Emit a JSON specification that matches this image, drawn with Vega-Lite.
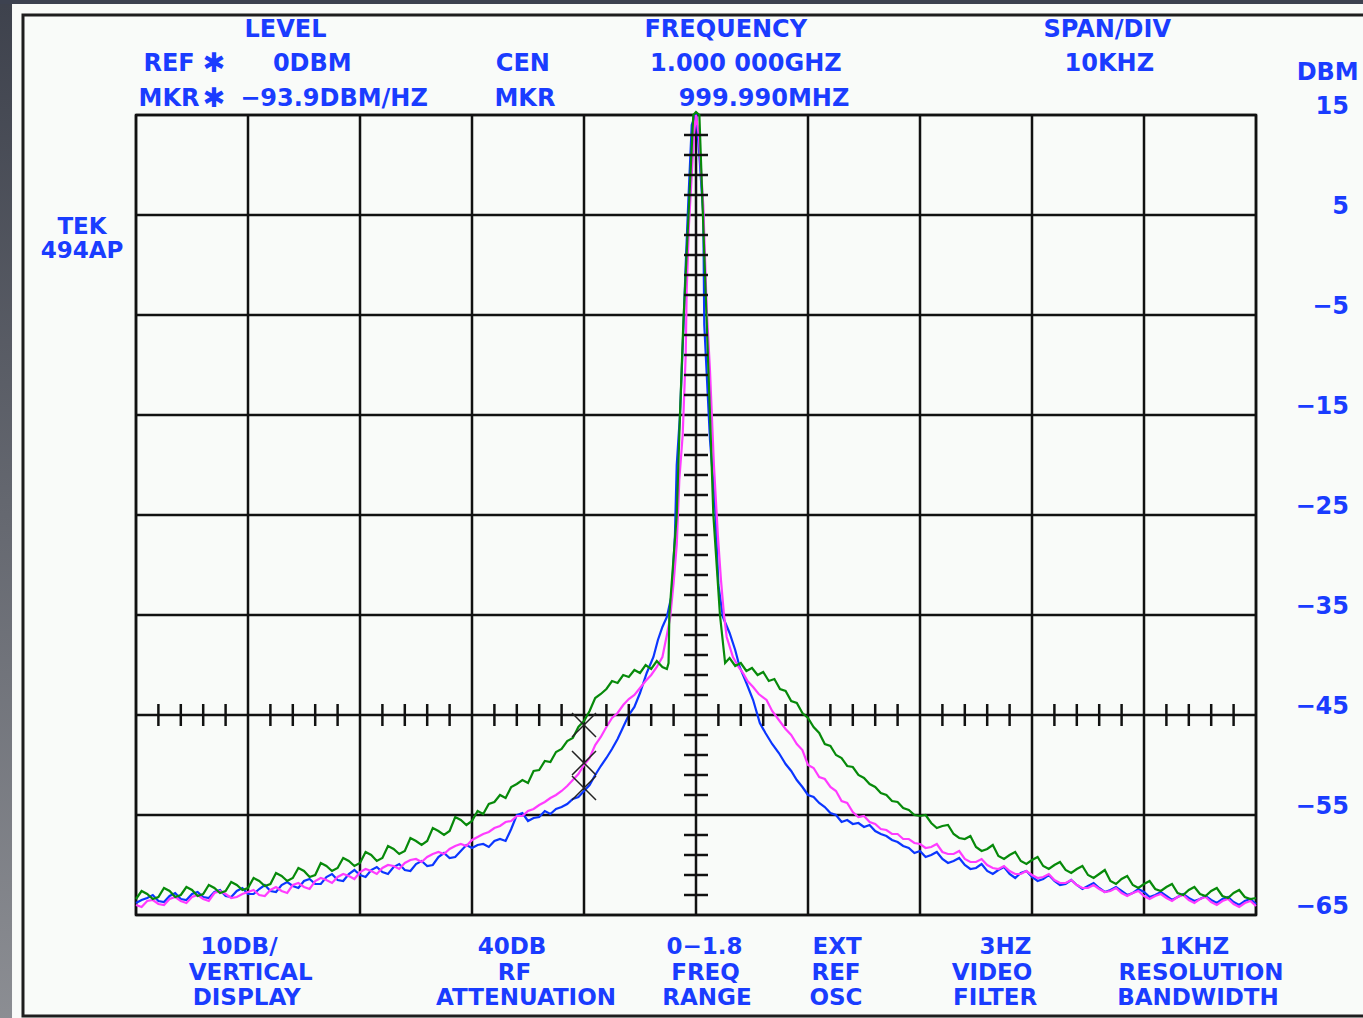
{
"$schema":"https://vega.github.io/schema/vega-lite/v6.json",
"width":1120,"height":800,
"autosize":{"type":"none"},
"padding":{"left":136,"top":115,"right":107,"bottom":103},
"background":"#f9fbf9",
"config":{"view":{"stroke":"#111111","strokeWidth":2.5},"text":{"font":"DejaVu Sans","fontWeight":"bold","fontSize":24,"color":"#1a3cff","align":"center","baseline":"middle"}},
"data":{"values":[{}]},
"datasets":{
"gx":[{"f":-50},{"f":-40},{"f":-30},{"f":-20},{"f":-10},{"f":0},{"f":10},{"f":20},{"f":30},{"f":40},{"f":50}],
"gy":[{"d":15},{"d":5},{"d":-5},{"d":-15},{"d":-25},{"d":-35},{"d":-45},{"d":-55},{"d":-65}],
"green":[{"f":-50,"d":-63.4},{"f":-49,"d":-62.9},{"f":-48,"d":-63.2},{"f":-47,"d":-62.6},{"f":-46,"d":-63.0},{"f":-45,"d":-62.5},{"f":-44,"d":-62.9},{"f":-43,"d":-62.3},{"f":-42,"d":-62.6},{"f":-41,"d":-62.0},{"f":-40,"d":-62.3},{"f":-39,"d":-61.6},{"f":-38,"d":-61.9},{"f":-37,"d":-61.1},{"f":-36,"d":-61.3},{"f":-35,"d":-60.6},{"f":-34,"d":-61.0},{"f":-33,"d":-60.1},{"f":-32,"d":-60.3},{"f":-31,"d":-59.6},{"f":-30,"d":-59.8},{"f":-29,"d":-59.0},{"f":-28,"d":-59.3},{"f":-27,"d":-58.4},{"f":-26,"d":-58.6},{"f":-25,"d":-57.6},{"f":-24,"d":-57.6},{"f":-23,"d":-56.6},{"f":-22,"d":-56.6},{"f":-21,"d":-55.5},{"f":-20,"d":-55.6},{"f":-19.5,"d":-54.6},{"f":-19,"d":-54.9},{"f":-18.5,"d":-53.9},{"f":-18,"d":-53.7},{"f":-17.5,"d":-53.0},{"f":-17,"d":-53.3},{"f":-16.5,"d":-52.2},{"f":-16,"d":-51.9},{"f":-15.5,"d":-51.5},{"f":-15,"d":-51.8},{"f":-14.5,"d":-50.6},{"f":-14,"d":-50.5},{"f":-13.5,"d":-49.6},{"f":-13,"d":-49.7},{"f":-12.5,"d":-48.7},{"f":-12,"d":-48.4},{"f":-11.5,"d":-47.6},{"f":-11,"d":-47.3},{"f":-10.5,"d":-46.2},{"f":-10,"d":-45.6},{"f":-9.5,"d":-44.6},{"f":-9,"d":-43.3},{"f":-8.5,"d":-42.9},{"f":-8,"d":-42.4},{"f":-7.5,"d":-41.6},{"f":-7,"d":-41.8},{"f":-6.5,"d":-41.0},{"f":-6,"d":-41.2},{"f":-5.5,"d":-40.5},{"f":-5,"d":-40.8},{"f":-4.5,"d":-40.0},{"f":-4,"d":-40.4},{"f":-3.5,"d":-39.6},{"f":-3,"d":-40.2},{"f":-2.6,"d":-40.4},{"f":-2.45,"d":-39.8},{"f":-2.38,"d":-35},{"f":-1.72,"d":-25},{"f":-1.43,"d":-15},{"f":-1.13,"d":-5.8},{"f":-0.24,"d":15},{"f":0,"d":15.3},{"f":0.3,"d":15},{"f":0.96,"d":-5.8},{"f":1.25,"d":-15},{"f":1.55,"d":-25},{"f":2.14,"d":-35},{"f":2.6,"d":-39.8},{"f":3,"d":-39.3},{"f":3.5,"d":-40.1},{"f":4,"d":-39.8},{"f":4.5,"d":-40.6},{"f":5,"d":-40.3},{"f":5.5,"d":-41.0},{"f":6,"d":-40.7},{"f":6.5,"d":-41.6},{"f":7,"d":-41.4},{"f":7.5,"d":-42.4},{"f":8,"d":-42.6},{"f":8.5,"d":-43.6},{"f":9,"d":-43.8},{"f":9.5,"d":-44.8},{"f":10,"d":-45.3},{"f":10.5,"d":-46.2},{"f":11,"d":-46.8},{"f":11.5,"d":-47.9},{"f":12,"d":-48.1},{"f":12.5,"d":-49.0},{"f":13,"d":-49.3},{"f":13.5,"d":-50.1},{"f":14,"d":-50.2},{"f":14.5,"d":-51.0},{"f":15,"d":-51.3},{"f":15.5,"d":-51.9},{"f":16,"d":-52.2},{"f":16.5,"d":-52.8},{"f":17,"d":-53.0},{"f":17.5,"d":-53.6},{"f":18,"d":-53.7},{"f":18.5,"d":-54.3},{"f":19,"d":-54.5},{"f":19.5,"d":-55.0},{"f":20,"d":-55.1},{"f":21,"d":-55.8},{"f":22,"d":-56.1},{"f":23,"d":-56.9},{"f":24,"d":-57.4},{"f":25,"d":-58.2},{"f":26,"d":-58.4},{"f":27,"d":-59.1},{"f":28,"d":-59.0},{"f":29,"d":-59.6},{"f":30,"d":-59.5},{"f":31,"d":-60.1},{"f":32,"d":-60.0},{"f":33,"d":-60.5},{"f":34,"d":-60.4},{"f":35,"d":-61.0},{"f":36,"d":-60.9},{"f":37,"d":-61.6},{"f":38,"d":-61.4},{"f":39,"d":-62.0},{"f":40,"d":-61.9},{"f":41,"d":-62.4},{"f":42,"d":-62.2},{"f":43,"d":-62.8},{"f":44,"d":-62.5},{"f":45,"d":-62.9},{"f":46,"d":-62.6},{"f":47,"d":-63.1},{"f":48,"d":-62.8},{"f":49,"d":-63.2},{"f":50,"d":-63.3},
{"f":20.5,"d":-55.0},{"f":21.5,"d":-56.3},{"f":22.5,"d":-56.0},{"f":23.5,"d":-57.3},{"f":24.5,"d":-57.1},{"f":25.5,"d":-58.6},{"f":26.5,"d":-58.0},{"f":27.5,"d":-59.4},{"f":28.5,"d":-58.7},{"f":29.5,"d":-59.9},{"f":30.5,"d":-59.2},{"f":31.5,"d":-60.4},{"f":32.5,"d":-59.7},{"f":33.5,"d":-60.8},{"f":34.5,"d":-60.1},{"f":35.5,"d":-61.3},{"f":36.5,"d":-60.5},{"f":37.5,"d":-61.9},{"f":38.5,"d":-61.1},{"f":39.5,"d":-62.3},{"f":40.5,"d":-61.6},{"f":41.5,"d":-62.6},{"f":42.5,"d":-61.9},{"f":43.5,"d":-63.0},{"f":44.5,"d":-62.2},{"f":45.5,"d":-63.1},{"f":46.5,"d":-62.3},{"f":47.5,"d":-63.3},{"f":48.5,"d":-62.5},{"f":49.5,"d":-63.4},
{"f":-49.5,"d":-62.6},{"f":-48.5,"d":-63.4},{"f":-47.5,"d":-62.3},{"f":-46.5,"d":-63.2},{"f":-45.5,"d":-62.2},{"f":-44.5,"d":-63.1},{"f":-43.5,"d":-62.0},{"f":-42.5,"d":-62.8},{"f":-41.5,"d":-61.7},{"f":-40.5,"d":-62.5},{"f":-39.5,"d":-61.3},{"f":-38.5,"d":-62.1},{"f":-37.5,"d":-60.8},{"f":-36.5,"d":-61.6},{"f":-35.5,"d":-60.3},{"f":-34.5,"d":-61.2},{"f":-33.5,"d":-59.8},{"f":-32.5,"d":-60.6},{"f":-31.5,"d":-59.3},{"f":-30.5,"d":-60.1},{"f":-29.5,"d":-58.7},{"f":-28.5,"d":-59.6},{"f":-27.5,"d":-58.1},{"f":-26.5,"d":-58.9},{"f":-25.5,"d":-57.3},{"f":-24.5,"d":-58.0},{"f":-23.5,"d":-56.3},{"f":-22.5,"d":-57.0},{"f":-21.5,"d":-55.2},{"f":-20.5,"d":-56.0}],
"magenta":[{"f":-50,"d":-64.0},{"f":-49,"d":-63.6},{"f":-48,"d":-63.9},{"f":-47,"d":-63.4},{"f":-46,"d":-63.6},{"f":-45,"d":-63.2},{"f":-44,"d":-63.4},{"f":-43,"d":-62.8},{"f":-42,"d":-62.9},{"f":-41,"d":-63.2},{"f":-40,"d":-62.7},{"f":-39,"d":-63.0},{"f":-38,"d":-62.5},{"f":-37,"d":-62.6},{"f":-36,"d":-62.0},{"f":-35,"d":-62.2},{"f":-34,"d":-61.6},{"f":-33,"d":-61.5},{"f":-32,"d":-61.2},{"f":-31,"d":-61.1},{"f":-30,"d":-60.7},{"f":-29,"d":-60.6},{"f":-28,"d":-60.3},{"f":-27,"d":-60.1},{"f":-26,"d":-59.8},{"f":-25,"d":-59.4},{"f":-24,"d":-59.2},{"f":-23,"d":-58.7},{"f":-22,"d":-58.4},{"f":-21,"d":-57.9},{"f":-20,"d":-57.5},{"f":-19.5,"d":-57.2},{"f":-19,"d":-56.9},{"f":-18.5,"d":-56.7},{"f":-18,"d":-56.3},{"f":-17.5,"d":-56.1},{"f":-17,"d":-55.7},{"f":-16.5,"d":-55.6},{"f":-16,"d":-55.1},{"f":-15.5,"d":-55.1},{"f":-15,"d":-54.6},{"f":-14.5,"d":-54.4},{"f":-14,"d":-54.0},{"f":-13.5,"d":-53.7},{"f":-13,"d":-53.3},{"f":-12.5,"d":-53.0},{"f":-12,"d":-52.6},{"f":-11.5,"d":-52.1},{"f":-11,"d":-51.5},{"f":-10.5,"d":-50.9},{"f":-10,"d":-50.0},{"f":-9.5,"d":-49.3},{"f":-9,"d":-48.0},{"f":-8.5,"d":-47.2},{"f":-8,"d":-46.2},{"f":-7.5,"d":-45.3},{"f":-7,"d":-44.8},{"f":-6.5,"d":-44.0},{"f":-6,"d":-43.4},{"f":-5.5,"d":-43.0},{"f":-5,"d":-42.3},{"f":-4.5,"d":-41.6},{"f":-4,"d":-41.0},{"f":-3.5,"d":-40.2},{"f":-3,"d":-39.2},{"f":-2.6,"d":-37},{"f":-2.3,"d":-35.2},{"f":-2.0,"d":-31.8},{"f":-1.72,"d":-28},{"f":-1.49,"d":-21.5},{"f":-1.19,"d":-17},{"f":-0.92,"d":-9},{"f":-0.83,"d":-2.5},{"f":-0.63,"d":4},{"f":-0.18,"d":13},{"f":0,"d":15},{"f":0.25,"d":13},{"f":0.65,"d":6},{"f":0.96,"d":-4.5},{"f":1.25,"d":-10.6},{"f":1.6,"d":-20},{"f":1.95,"d":-27},{"f":2.23,"d":-31.5},{"f":2.5,"d":-35},{"f":2.74,"d":-37.2},{"f":3.3,"d":-39.2},{"f":3.8,"d":-40.2},{"f":4.2,"d":-40.8},{"f":4.6,"d":-41.6},{"f":5.1,"d":-42.2},{"f":5.6,"d":-42.9},{"f":6.3,"d":-43.5},{"f":6.8,"d":-44.6},{"f":7.4,"d":-45.5},{"f":8,"d":-46.4},{"f":8.5,"d":-47.0},{"f":9,"d":-47.9},{"f":9.5,"d":-48.5},{"f":10,"d":-50.0},{"f":10.5,"d":-50.3},{"f":11,"d":-51.2},{"f":11.5,"d":-51.4},{"f":12,"d":-52.2},{"f":12.5,"d":-52.6},{"f":13,"d":-53.6},{"f":13.5,"d":-53.8},{"f":14,"d":-54.7},{"f":14.5,"d":-55.2},{"f":15,"d":-55.1},{"f":15.5,"d":-55.7},{"f":16,"d":-55.9},{"f":16.5,"d":-56.4},{"f":17,"d":-56.5},{"f":17.5,"d":-56.9},{"f":18,"d":-56.9},{"f":18.5,"d":-57.4},{"f":19,"d":-57.4},{"f":19.5,"d":-57.8},{"f":20,"d":-57.9},{"f":21,"d":-58.2},{"f":22,"d":-58.7},{"f":23,"d":-58.9},{"f":24,"d":-59.4},{"f":25,"d":-59.7},{"f":26,"d":-60.0},{"f":27,"d":-60.4},{"f":28,"d":-60.6},{"f":29,"d":-60.9},{"f":30,"d":-61.0},{"f":31,"d":-61.2},{"f":32,"d":-61.5},{"f":33,"d":-61.8},{"f":34,"d":-62.0},{"f":35,"d":-62.3},{"f":36,"d":-62.4},{"f":37,"d":-62.6},{"f":38,"d":-62.8},{"f":39,"d":-62.8},{"f":40,"d":-63.1},{"f":41,"d":-63.1},{"f":42,"d":-63.3},{"f":43,"d":-63.2},{"f":44,"d":-63.5},{"f":45,"d":-63.4},{"f":46,"d":-63.7},{"f":47,"d":-63.6},{"f":48,"d":-63.9},{"f":49,"d":-63.8},{"f":50,"d":-64.1},
{"f":20.5,"d":-58.3},{"f":21.5,"d":-57.9},{"f":22.5,"d":-58.9},{"f":23.5,"d":-58.6},{"f":24.5,"d":-59.7},{"f":25.5,"d":-59.4},{"f":26.5,"d":-60.3},{"f":27.5,"d":-60.1},{"f":28.5,"d":-60.9},{"f":29.5,"d":-60.6},{"f":30.5,"d":-61.3},{"f":31.5,"d":-60.9},{"f":32.5,"d":-61.8},{"f":33.5,"d":-61.5},{"f":34.5,"d":-62.3},{"f":35.5,"d":-62.0},{"f":36.5,"d":-62.7},{"f":37.5,"d":-62.3},{"f":38.5,"d":-63.1},{"f":39.5,"d":-62.6},{"f":40.5,"d":-63.4},{"f":41.5,"d":-62.9},{"f":42.5,"d":-63.6},{"f":43.5,"d":-63.0},{"f":44.5,"d":-63.8},{"f":45.5,"d":-63.2},{"f":46.5,"d":-64.0},{"f":47.5,"d":-63.4},{"f":48.5,"d":-64.2},{"f":49.5,"d":-63.6},
{"f":-49.5,"d":-64.2},{"f":-48.5,"d":-63.5},{"f":-47.5,"d":-64.0},{"f":-46.5,"d":-63.2},{"f":-45.5,"d":-63.8},{"f":-44.5,"d":-63.0},{"f":-43.5,"d":-63.6},{"f":-42.5,"d":-62.6},{"f":-41.5,"d":-63.3},{"f":-40.5,"d":-62.9},{"f":-39.5,"d":-62.5},{"f":-38.5,"d":-63.1},{"f":-37.5,"d":-62.2},{"f":-36.5,"d":-62.8},{"f":-35.5,"d":-61.8},{"f":-34.5,"d":-62.4},{"f":-33.5,"d":-61.3},{"f":-32.5,"d":-61.8},{"f":-31.5,"d":-60.9},{"f":-30.5,"d":-61.4},{"f":-29.5,"d":-60.4},{"f":-28.5,"d":-60.9},{"f":-27.5,"d":-60.0},{"f":-26.5,"d":-60.4},{"f":-25.5,"d":-59.5},{"f":-24.5,"d":-59.7},{"f":-23.5,"d":-58.9},{"f":-22.5,"d":-58.9},{"f":-21.5,"d":-58.1},{"f":-20.5,"d":-58.1}],
"blue":[{"f":-50,"d":-63.8},{"f":-49,"d":-63.3},{"f":-48,"d":-63.6},{"f":-47,"d":-63.1},{"f":-46,"d":-63.4},{"f":-45,"d":-62.9},{"f":-44,"d":-63.2},{"f":-43,"d":-62.7},{"f":-42,"d":-63.1},{"f":-41,"d":-62.6},{"f":-40,"d":-62.9},{"f":-39,"d":-62.4},{"f":-38,"d":-62.6},{"f":-37,"d":-62.0},{"f":-36,"d":-62.1},{"f":-35,"d":-61.6},{"f":-34,"d":-61.9},{"f":-33,"d":-61.2},{"f":-32,"d":-61.5},{"f":-31,"d":-60.9},{"f":-30,"d":-61.0},{"f":-29,"d":-60.5},{"f":-28,"d":-60.7},{"f":-27,"d":-60.2},{"f":-26,"d":-60.5},{"f":-25,"d":-59.9},{"f":-24,"d":-60.1},{"f":-23,"d":-59.2},{"f":-22,"d":-59.3},{"f":-21,"d":-58.6},{"f":-20,"d":-58.3},{"f":-19.5,"d":-58.0},{"f":-19,"d":-57.9},{"f":-18.5,"d":-58.2},{"f":-18,"d":-57.6},{"f":-17.5,"d":-57.4},{"f":-17,"d":-57.6},{"f":-16.5,"d":-56.4},{"f":-16,"d":-55.0},{"f":-15.5,"d":-54.8},{"f":-15,"d":-55.6},{"f":-14.5,"d":-55.3},{"f":-14,"d":-55.2},{"f":-13.5,"d":-54.6},{"f":-13,"d":-54.9},{"f":-12.5,"d":-54.4},{"f":-12,"d":-54.2},{"f":-11.5,"d":-53.9},{"f":-11,"d":-53.4},{"f":-10.5,"d":-53.2},{"f":-10,"d":-52.6},{"f":-9.5,"d":-52.0},{"f":-9,"d":-51.0},{"f":-8.5,"d":-50.1},{"f":-8,"d":-49.3},{"f":-7.5,"d":-48.4},{"f":-7,"d":-47.4},{"f":-6.5,"d":-46.2},{"f":-6,"d":-45.0},{"f":-5.5,"d":-44.2},{"f":-5,"d":-42.8},{"f":-4.4,"d":-40.8},{"f":-3.8,"d":-39.2},{"f":-3.4,"d":-37.5},{"f":-3.0,"d":-36.2},{"f":-2.6,"d":-35.2},{"f":-2.17,"d":-33},{"f":-1.88,"d":-27},{"f":-1.72,"d":-20},{"f":-1.43,"d":-15},{"f":-1.13,"d":-6.5},{"f":-0.92,"d":0},{"f":-0.68,"d":6.5},{"f":-0.38,"d":14},{"f":0,"d":15.2},{"f":0.3,"d":11},{"f":0.65,"d":5},{"f":0.74,"d":-6},{"f":1.25,"d":-17.5},{"f":1.7,"d":-24},{"f":2.0,"d":-32},{"f":2.4,"d":-35.2},{"f":3.0,"d":-36.8},{"f":3.5,"d":-38.5},{"f":3.9,"d":-40.2},{"f":4.5,"d":-41.8},{"f":5.1,"d":-43.5},{"f":5.7,"d":-45.8},{"f":6.2,"d":-46.8},{"f":6.8,"d":-47.9},{"f":7.4,"d":-48.8},{"f":8,"d":-49.9},{"f":8.5,"d":-50.6},{"f":9,"d":-51.5},{"f":9.5,"d":-52.2},{"f":10,"d":-53.0},{"f":10.5,"d":-53.2},{"f":11,"d":-53.8},{"f":11.5,"d":-54.2},{"f":12,"d":-54.8},{"f":12.5,"d":-55.0},{"f":13,"d":-55.7},{"f":13.5,"d":-55.5},{"f":14,"d":-55.9},{"f":14.5,"d":-55.8},{"f":15,"d":-56.2},{"f":15.5,"d":-56.0},{"f":16,"d":-56.6},{"f":16.5,"d":-56.9},{"f":17,"d":-57.1},{"f":17.5,"d":-57.5},{"f":18,"d":-57.7},{"f":18.5,"d":-58.1},{"f":19,"d":-58.3},{"f":19.5,"d":-58.8},{"f":20,"d":-58.6},{"f":21,"d":-59.0},{"f":22,"d":-59.4},{"f":23,"d":-59.6},{"f":24,"d":-60.0},{"f":25,"d":-60.3},{"f":26,"d":-60.6},{"f":27,"d":-60.5},{"f":28,"d":-60.9},{"f":29,"d":-60.8},{"f":30,"d":-61.2},{"f":31,"d":-61.4},{"f":32,"d":-61.6},{"f":33,"d":-61.9},{"f":34,"d":-62.0},{"f":35,"d":-62.1},{"f":36,"d":-62.3},{"f":37,"d":-62.5},{"f":38,"d":-62.6},{"f":39,"d":-62.8},{"f":40,"d":-62.7},{"f":41,"d":-63.0},{"f":42,"d":-63.1},{"f":43,"d":-63.2},{"f":44,"d":-63.3},{"f":45,"d":-63.4},{"f":46,"d":-63.5},{"f":47,"d":-63.4},{"f":48,"d":-63.7},{"f":49,"d":-63.6},{"f":50,"d":-63.9},
{"f":20.5,"d":-59.2},{"f":21.5,"d":-58.7},{"f":22.5,"d":-59.8},{"f":23.5,"d":-59.3},{"f":24.5,"d":-60.4},{"f":25.5,"d":-59.9},{"f":26.5,"d":-60.9},{"f":27.5,"d":-60.2},{"f":28.5,"d":-61.3},{"f":29.5,"d":-60.6},{"f":30.5,"d":-61.6},{"f":31.5,"d":-61.0},{"f":32.5,"d":-62.0},{"f":33.5,"d":-61.5},{"f":34.5,"d":-62.4},{"f":35.5,"d":-61.8},{"f":36.5,"d":-62.7},{"f":37.5,"d":-62.2},{"f":38.5,"d":-63.0},{"f":39.5,"d":-62.4},{"f":40.5,"d":-63.2},{"f":41.5,"d":-62.7},{"f":42.5,"d":-63.5},{"f":43.5,"d":-62.9},{"f":44.5,"d":-63.6},{"f":45.5,"d":-63.1},{"f":46.5,"d":-63.8},{"f":47.5,"d":-63.2},{"f":48.5,"d":-64.0},{"f":49.5,"d":-63.4},
{"f":-49.5,"d":-63.5},{"f":-48.5,"d":-63.0},{"f":-47.5,"d":-63.7},{"f":-46.5,"d":-62.8},{"f":-45.5,"d":-63.5},{"f":-44.5,"d":-62.7},{"f":-43.5,"d":-63.3},{"f":-42.5,"d":-62.5},{"f":-41.5,"d":-63.2},{"f":-40.5,"d":-62.3},{"f":-39.5,"d":-62.9},{"f":-38.5,"d":-62.0},{"f":-37.5,"d":-62.7},{"f":-36.5,"d":-61.7},{"f":-35.5,"d":-62.3},{"f":-34.5,"d":-61.4},{"f":-33.5,"d":-61.9},{"f":-32.5,"d":-60.9},{"f":-31.5,"d":-61.6},{"f":-30.5,"d":-60.5},{"f":-29.5,"d":-61.2},{"f":-28.5,"d":-60.2},{"f":-27.5,"d":-60.9},{"f":-26.5,"d":-59.9},{"f":-25.5,"d":-60.6},{"f":-24.5,"d":-59.6},{"f":-23.5,"d":-60.0},{"f":-22.5,"d":-58.8},{"f":-21.5,"d":-59.2},{"f":-20.5,"d":-58.0}],
"vt":[{"d":13},{"d":11},{"d":9},{"d":7},{"d":3},{"d":1},{"d":-1},{"d":-3},{"d":-7},{"d":-9},{"d":-11},{"d":-13},{"d":-17},{"d":-19},{"d":-21},{"d":-23},{"d":-27},{"d":-29},{"d":-31},{"d":-33},{"d":-37},{"d":-39},{"d":-41},{"d":-43},{"d":-47},{"d":-49},{"d":-51},{"d":-53},{"d":-57},{"d":-59},{"d":-61},{"d":-63}],
"ht":[{"f":-48},{"f":-46},{"f":-44},{"f":-42},{"f":-38},{"f":-36},{"f":-34},{"f":-32},{"f":-28},{"f":-26},{"f":-24},{"f":-22},{"f":-18},{"f":-16},{"f":-14},{"f":-12},{"f":-8},{"f":-6},{"f":-4},{"f":-2},{"f":2},{"f":4},{"f":6},{"f":8},{"f":12},{"f":14},{"f":16},{"f":18},{"f":22},{"f":24},{"f":26},{"f":28},{"f":32},{"f":34},{"f":36},{"f":38},{"f":42},{"f":44},{"f":46},{"f":48}],
"mkr":[{"f":-10,"d":-46},{"f":-10,"d":-49.8},{"f":-10,"d":-52.3}]
},
"layer":[
{"data":{"name":"gx"},"mark":{"type":"rule","color":"#111111","strokeWidth":2.5},
 "encoding":{"x":{"field":"f","type":"quantitative","scale":{"domain":[-50,50],"nice":false,"zero":false},"axis":null},"y":{"datum":15,"type":"quantitative","scale":{"domain":[-65,15],"nice":false,"zero":false},"axis":null},"y2":{"datum":-65}}},
{"data":{"name":"gy"},"mark":{"type":"rule","color":"#111111","strokeWidth":2.5},
 "encoding":{"y":{"field":"d","type":"quantitative","axis":null},"x":{"datum":-50,"type":"quantitative","axis":null},"x2":{"datum":50}}},
{"data":{"name":"gy"},"mark":{"type":"text","align":"right","dy":-8},
 "encoding":{"y":{"field":"d","type":"quantitative","axis":null},"x":{"datum":58.3,"type":"quantitative","axis":null},"text":{"field":"d","type":"quantitative"}}},
{"mark":{"type":"text","text":"DBM"},"encoding":{"x":{"datum":56.4,"type":"quantitative","axis":null},"y":{"datum":19.25,"type":"quantitative","axis":null}}},
{"mark":{"type":"rect","fill":{"gradient":"linear","x1":0,"y1":0,"x2":0,"y2":1,"stops":[{"offset":0,"color":"#3b3f4a"},{"offset":1,"color":"#8f9196"}]}},
 "encoding":{"x":{"datum":-70,"type":"quantitative","axis":null},"x2":{"datum":-61.07},"y":{"datum":30,"type":"quantitative","axis":null},"y2":{"datum":-80}}},
{"mark":{"type":"rect","color":"#3d4250"},
 "encoding":{"x":{"datum":-70,"type":"quantitative","axis":null},"x2":{"datum":70},"y":{"datum":30,"type":"quantitative","axis":null},"y2":{"datum":26.1}}},
{"mark":{"type":"rect","fillOpacity":0,"stroke":"#1e1e1e","strokeWidth":3},
 "encoding":{"x":{"datum":-60.09,"type":"quantitative","axis":null},"x2":{"datum":70},"y":{"datum":25,"type":"quantitative","axis":null},"y2":{"datum":-75.1}}},
{"data":{"name":"blue"},"mark":{"type":"line","color":"#0b36ff","strokeWidth":2.2},
 "encoding":{"x":{"field":"f","type":"quantitative","axis":null},"y":{"field":"d","type":"quantitative","axis":null}}},
{"data":{"name":"magenta"},"mark":{"type":"line","color":"#ff3cff","strokeWidth":2.2},
 "encoding":{"x":{"field":"f","type":"quantitative","axis":null},"y":{"field":"d","type":"quantitative","axis":null}}},
{"data":{"name":"green"},"mark":{"type":"line","color":"#078a0a","strokeWidth":2.2},
 "encoding":{"x":{"field":"f","type":"quantitative","axis":null},"y":{"field":"d","type":"quantitative","axis":null}}},
{"data":{"name":"vt"},"mark":{"type":"rule","color":"#111111","strokeWidth":2.5},
 "encoding":{"x":{"datum":-1.07,"type":"quantitative","axis":null},"x2":{"datum":1.07},"y":{"field":"d","type":"quantitative","axis":null}}},
{"data":{"name":"ht"},"mark":{"type":"rule","color":"#111111","strokeWidth":2.5},
 "encoding":{"x":{"field":"f","type":"quantitative","axis":null},"y":{"datum":-43.9,"type":"quantitative","axis":null},"y2":{"datum":-46.1}}},
{"data":{"name":"mkr"},"mark":{"type":"point","shape":"M-1,-1L1,1M1,-1L-1,1","size":576,"filled":false,"color":"#222222","strokeWidth":1.5,"opacity":1},
 "encoding":{"x":{"field":"f","type":"quantitative","axis":null},"y":{"field":"d","type":"quantitative","axis":null}}},
{"mark":{"type":"text","text":"LEVEL"},"encoding":{"x":{"datum":-36.65,"type":"quantitative","axis":null},"y":{"datum":23.55,"type":"quantitative","axis":null}}},
{"mark":{"type":"text","text":"FREQUENCY"},"encoding":{"x":{"datum":2.66,"type":"quantitative","axis":null},"y":{"datum":23.55,"type":"quantitative","axis":null}}},
{"mark":{"type":"text","text":"SPAN/DIV"},"encoding":{"x":{"datum":36.72,"type":"quantitative","axis":null},"y":{"datum":23.55,"type":"quantitative","axis":null}}},
{"mark":{"type":"text","text":"REF"},"encoding":{"x":{"datum":-47.05,"type":"quantitative","axis":null},"y":{"datum":20.1,"type":"quantitative","axis":null}}},
{"mark":{"type":"text","text":"✱","fontSize":27},"encoding":{"x":{"datum":-43.04,"type":"quantitative","axis":null},"y":{"datum":20.1,"type":"quantitative","axis":null}}},
{"mark":{"type":"text","text":"0DBM"},"encoding":{"x":{"datum":-34.26,"type":"quantitative","axis":null},"y":{"datum":20.1,"type":"quantitative","axis":null}}},
{"mark":{"type":"text","text":"CEN"},"encoding":{"x":{"datum":-15.46,"type":"quantitative","axis":null},"y":{"datum":20.1,"type":"quantitative","axis":null}}},
{"mark":{"type":"text","text":"1.000 000GHZ"},"encoding":{"x":{"datum":4.45,"type":"quantitative","axis":null},"y":{"datum":20.1,"type":"quantitative","axis":null}}},
{"mark":{"type":"text","text":"10KHZ"},"encoding":{"x":{"datum":36.9,"type":"quantitative","axis":null},"y":{"datum":20.1,"type":"quantitative","axis":null}}},
{"mark":{"type":"text","text":"MKR"},"encoding":{"x":{"datum":-47.05,"type":"quantitative","axis":null},"y":{"datum":16.6,"type":"quantitative","axis":null}}},
{"mark":{"type":"text","text":"✱","fontSize":27},"encoding":{"x":{"datum":-43.04,"type":"quantitative","axis":null},"y":{"datum":16.6,"type":"quantitative","axis":null}}},
{"mark":{"type":"text","text":"−93.9DBM/HZ"},"encoding":{"x":{"datum":-32.32,"type":"quantitative","axis":null},"y":{"datum":16.6,"type":"quantitative","axis":null}}},
{"mark":{"type":"text","text":"MKR"},"encoding":{"x":{"datum":-15.27,"type":"quantitative","axis":null},"y":{"datum":16.6,"type":"quantitative","axis":null}}},
{"mark":{"type":"text","text":"999.990MHZ"},"encoding":{"x":{"datum":6.07,"type":"quantitative","axis":null},"y":{"datum":16.6,"type":"quantitative","axis":null}}},
{"mark":{"type":"text","text":"TEK","fontSize":23},"encoding":{"x":{"datum":-54.82,"type":"quantitative","axis":null},"y":{"datum":3.8,"type":"quantitative","axis":null}}},
{"mark":{"type":"text","text":"494AP","fontSize":23},"encoding":{"x":{"datum":-54.82,"type":"quantitative","axis":null},"y":{"datum":1.4,"type":"quantitative","axis":null}}},
{"mark":{"type":"text","text":"10DB/","fontSize":23},"encoding":{"x":{"datum":-40.8,"type":"quantitative","axis":null},"y":{"datum":-68.2,"type":"quantitative","axis":null}}},
{"mark":{"type":"text","text":"VERTICAL","fontSize":23},"encoding":{"x":{"datum":-39.76,"type":"quantitative","axis":null},"y":{"datum":-70.8,"type":"quantitative","axis":null}}},
{"mark":{"type":"text","text":"DISPLAY","fontSize":23},"encoding":{"x":{"datum":-40.12,"type":"quantitative","axis":null},"y":{"datum":-73.3,"type":"quantitative","axis":null}}},
{"mark":{"type":"text","text":"40DB","fontSize":23},"encoding":{"x":{"datum":-16.43,"type":"quantitative","axis":null},"y":{"datum":-68.2,"type":"quantitative","axis":null}}},
{"mark":{"type":"text","text":"RF","fontSize":23},"encoding":{"x":{"datum":-16.21,"type":"quantitative","axis":null},"y":{"datum":-70.8,"type":"quantitative","axis":null}}},
{"mark":{"type":"text","text":"ATTENUATION","fontSize":23},"encoding":{"x":{"datum":-15.18,"type":"quantitative","axis":null},"y":{"datum":-73.3,"type":"quantitative","axis":null}}},
{"mark":{"type":"text","text":"0−1.8","fontSize":23},"encoding":{"x":{"datum":0.76,"type":"quantitative","axis":null},"y":{"datum":-68.2,"type":"quantitative","axis":null}}},
{"mark":{"type":"text","text":"FREQ","fontSize":23},"encoding":{"x":{"datum":0.85,"type":"quantitative","axis":null},"y":{"datum":-70.8,"type":"quantitative","axis":null}}},
{"mark":{"type":"text","text":"RANGE","fontSize":23},"encoding":{"x":{"datum":0.98,"type":"quantitative","axis":null},"y":{"datum":-73.3,"type":"quantitative","axis":null}}},
{"mark":{"type":"text","text":"EXT","fontSize":23},"encoding":{"x":{"datum":12.59,"type":"quantitative","axis":null},"y":{"datum":-68.2,"type":"quantitative","axis":null}}},
{"mark":{"type":"text","text":"REF","fontSize":23},"encoding":{"x":{"datum":12.5,"type":"quantitative","axis":null},"y":{"datum":-70.8,"type":"quantitative","axis":null}}},
{"mark":{"type":"text","text":"OSC","fontSize":23},"encoding":{"x":{"datum":12.5,"type":"quantitative","axis":null},"y":{"datum":-73.3,"type":"quantitative","axis":null}}},
{"mark":{"type":"text","text":"3HZ","fontSize":23},"encoding":{"x":{"datum":27.63,"type":"quantitative","axis":null},"y":{"datum":-68.2,"type":"quantitative","axis":null}}},
{"mark":{"type":"text","text":"VIDEO","fontSize":23},"encoding":{"x":{"datum":26.43,"type":"quantitative","axis":null},"y":{"datum":-70.8,"type":"quantitative","axis":null}}},
{"mark":{"type":"text","text":"FILTER","fontSize":23},"encoding":{"x":{"datum":26.7,"type":"quantitative","axis":null},"y":{"datum":-73.3,"type":"quantitative","axis":null}}},
{"mark":{"type":"text","text":"1KHZ","fontSize":23},"encoding":{"x":{"datum":44.5,"type":"quantitative","axis":null},"y":{"datum":-68.2,"type":"quantitative","axis":null}}},
{"mark":{"type":"text","text":"RESOLUTION","fontSize":23},"encoding":{"x":{"datum":45.09,"type":"quantitative","axis":null},"y":{"datum":-70.8,"type":"quantitative","axis":null}}},
{"mark":{"type":"text","text":"BANDWIDTH","fontSize":23},"encoding":{"x":{"datum":44.82,"type":"quantitative","axis":null},"y":{"datum":-73.3,"type":"quantitative","axis":null}}}
]
}
